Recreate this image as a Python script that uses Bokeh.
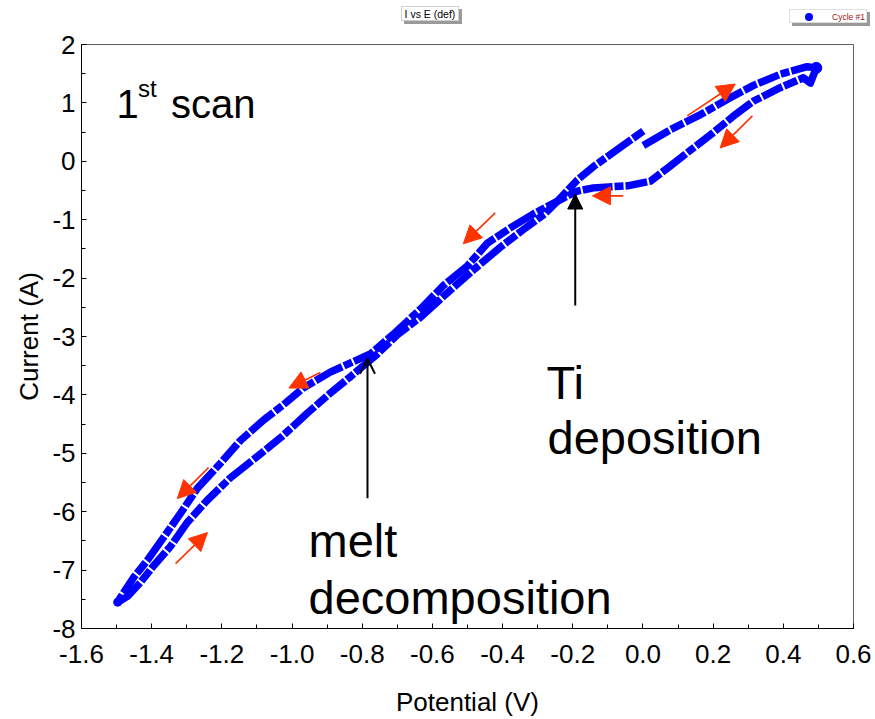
from bokeh.plotting import figure
from bokeh.models import Label, Arrow, NormalHead, OpenHead, FixedTicker, NumeralTickFormatter, Div
from bokeh.layouts import column
from bokeh.embed import file_html
from bokeh.resources import INLINE

# ---- data ----
# scan starts at 0.0 V, goes positive, reverses at +0.5 V, goes to -1.5 V and returns
fwd1_E = [0.001, 0.078, 0.164, 0.240, 0.315, 0.391, 0.468, 0.494]
fwd1_I = [0.27, 0.54, 0.80, 1.06, 1.30, 1.49, 1.62, 1.60]

rev_E = [0.494, 0.477, 0.457, 0.391, 0.315, 0.257, 0.200, 0.144, 0.078, 0.021, -0.044,
         -0.141, -0.187, -0.227, -0.312, -0.378, -0.443, -0.500, -0.569, -0.634, -0.711,
         -0.777, -0.814, -0.891, -0.968, -1.025, -1.081, -1.147, -1.204, -1.270, -1.318,
         -1.366, -1.412, -1.452, -1.489, -1.497]
rev_I = [1.60, 1.34, 1.43, 1.26, 1.03, 0.77, 0.49, 0.23, -0.08, -0.34, -0.42,
         -0.455, -0.51, -0.63, -0.90, -1.14, -1.40, -1.79, -2.13, -2.53, -2.96,
         -3.30, -3.40, -3.61, -3.88, -4.17, -4.43, -4.78, -5.17, -5.60, -6.03,
         -6.44, -6.83, -7.13, -7.47, -7.55]

fwd2_E = [-1.497, -1.469, -1.432, -1.395, -1.346, -1.298, -1.241, -1.176, -1.100, -1.030,
          -0.956, -0.891, -0.834, -0.757, -0.700, -0.634, -0.557, -0.483, -0.406, -0.341,
          -0.280, -0.240, -0.187, -0.141, -0.064, 0.001]
fwd2_I = [-7.55, -7.45, -7.21, -6.93, -6.59, -6.18, -5.80, -5.42, -5.06, -4.72,
          -4.31, -3.97, -3.69, -3.30, -2.97, -2.67, -2.25, -1.86, -1.47, -1.17,
          -0.90, -0.66, -0.32, -0.09, 0.24, 0.52]

x_ticks = [-1.6, -1.4, -1.2, -1.0, -0.8, -0.6, -0.4, -0.2, 0.0, 0.2, 0.4, 0.6]
y_ticks = [2, 1, 0, -1, -2, -3, -4, -5, -6, -7, -8]

# direction arrows (start E, start I, end E, end I)
dir_arrows = [
    (0.126, 0.777, 0.263, 1.324),
    (0.312, 0.777, 0.220, 0.229),
    (-0.056, -0.592, -0.144, -0.592),
    (-0.421, -0.883, -0.512, -1.413),
    (-0.919, -3.615, -1.009, -3.882),
    (-1.238, -5.245, -1.327, -5.776),
    (-1.332, -6.888, -1.241, -6.358),
]

FONT = "Liberation Sans"
BLUE = "#0000FF"
RED = "#FF3300"
HEAD = 28

fig = figure(width=875, height=719 - HEAD, x_range=(-1.6, 0.6), y_range=(-8, 2),
             output_backend="svg", toolbar_location=None,
             min_border_left=81, min_border_right=22, min_border_top=16, min_border_bottom=91)
fig.background_fill_color = "white"
fig.border_fill_color = "white"
fig.outline_line_color = "#606060"
fig.outline_line_width = 1
fig.grid.visible = False

for E, I in [(fwd1_E, fwd1_I), (rev_E, rev_I), (fwd2_E, fwd2_I)]:
    fig.line(E, I, line_color=BLUE, line_width=7.5, line_cap="butt", line_join="round",
             line_dash="30 2 14 2 22 2 9 2")
fig.scatter([fwd1_E[-1]], [fwd1_I[-1]], size=11, color=BLUE)
fig.scatter([fwd2_E[0]], [fwd2_I[0]], size=8, color=BLUE)

# axes
fig.xaxis.ticker = FixedTicker(ticks=x_ticks, minor_ticks=[round(-1.6 + 0.1 * i, 2) for i in range(23)])
fig.yaxis.ticker = FixedTicker(ticks=y_ticks, minor_ticks=[-8 + 0.5 * i for i in range(21)])
fig.xaxis.formatter = NumeralTickFormatter(format="0.0")
fig.yaxis.formatter = NumeralTickFormatter(format="0")
for ax in (fig.xaxis, fig.yaxis):
    ax.major_tick_in = 5
    ax.major_tick_out = 0
    ax.minor_tick_in = 4
    ax.minor_tick_out = 0
    ax.axis_line_color = "black"
    ax.major_tick_line_color = "black"
    ax.minor_tick_line_color = "black"
    ax.major_label_text_font = FONT
    ax.major_label_text_font_size = "26px"
    ax.major_label_text_color = "black"
    ax.axis_label_text_font = FONT
    ax.axis_label_text_font_size = "26px"
    ax.axis_label_text_font_style = "normal"
    ax.axis_label_text_color = "black"
fig.xaxis.axis_label = "Potential (V)"
fig.yaxis.axis_label = "Current (A)"
fig.xaxis.major_label_standoff = 16
fig.xaxis.axis_label_standoff = 21
fig.yaxis.major_label_standoff = 6
fig.yaxis.axis_label_standoff = 5

# direction arrows
for x0, y0, x1, y1 in dir_arrows:
    fig.add_layout(Arrow(x_start=x0, y_start=y0, x_end=x1, y_end=y1,
                         line_color=RED, line_width=1.6,
                         end=NormalHead(size=18, fill_color=RED, line_color=RED)))

# annotation arrows
fig.add_layout(Arrow(x_start=-0.193, y_start=-2.47, x_end=-0.193, y_end=-0.56,
                     line_color="black", line_width=2,
                     end=NormalHead(size=15, fill_color="black", line_color="black")))
fig.add_layout(Arrow(x_start=-0.785, y_start=-5.77, x_end=-0.785, y_end=-3.38,
                     line_color="black", line_width=2,
                     end=OpenHead(size=15, line_color="black", line_width=2)))

def lab(x, y, text, size, color="black"):
    fig.add_layout(Label(x=x, y=y, text=text, text_font=FONT, text_font_size=size,
                         text_color=color, text_baseline="alphabetic"))

lab(-1.500, 0.98, "1", "40px")
lab(-1.439, 1.24, "st", "24px")
lab(-1.345, 0.98, "scan", "40px")
lab(-0.275, -3.78, "Ti", "47px")
lab(-0.272, -4.73, "deposition", "47px")
lab(-0.953, -6.49, "melt", "47px")
lab(-0.953, -7.47, "decomposition", "47px")

# title button and legend box above the frame
header_html = (
    "<div style=\"position:relative;width:875px;height:28px;font-family:'Liberation Sans',Arial,sans-serif;\">"
    "<div style=\"position:absolute;left:401px;top:6px;width:58px;height:15px;background:#fff;"
    "border:1px solid #d0d0d0;box-shadow:3px 3px 0 #9a9a9a;font-size:10.5px;line-height:15px;"
    "text-align:center;color:#000;white-space:nowrap;\">I vs E (def)</div>"
    "<div style=\"position:absolute;left:789px;top:9px;width:78px;height:14px;background:#fff;"
    "border:1px solid #e0e0e0;box-shadow:3px 3px 0 #9a9a9a;font-size:8.5px;line-height:14px;white-space:nowrap;\">"
    "<span style=\"position:absolute;left:15px;top:3px;width:8px;height:8px;border-radius:50%;background:#0000FF;\"></span>"
    "<span style=\"position:absolute;left:42px;top:0px;color:#A01818;white-space:nowrap;\">Cycle #1</span>"
    "</div></div>"
)
header = Div(text=header_html, width=875, height=HEAD, margin=0)

p = column(header, fig, spacing=0, margin=0)

open("out.html", "w").write(file_html(p, INLINE))
